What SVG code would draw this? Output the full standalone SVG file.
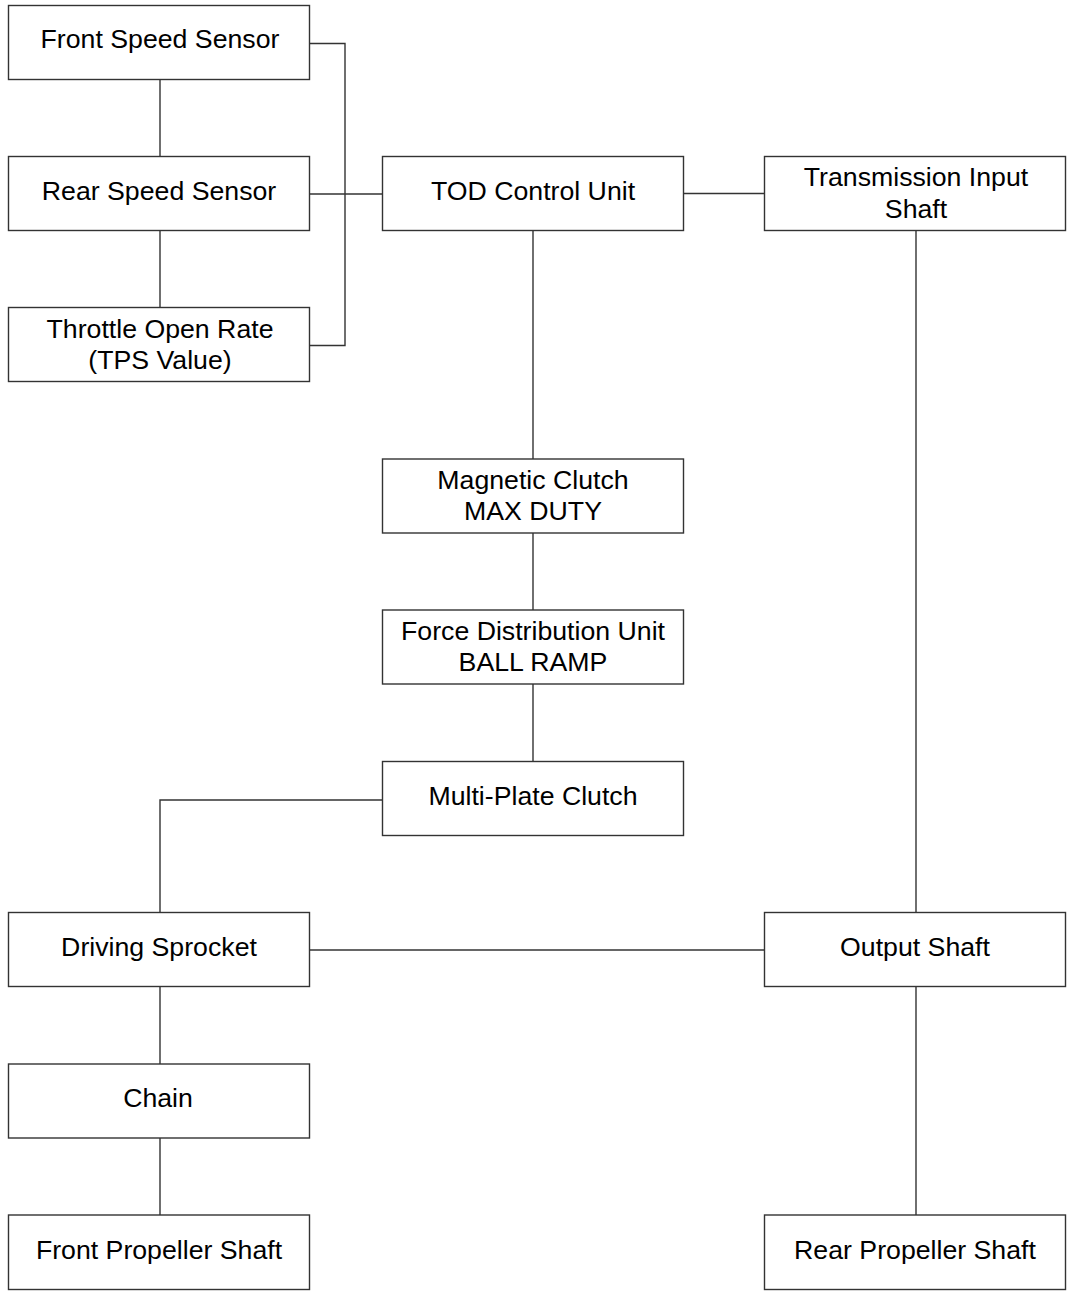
<svg xmlns="http://www.w3.org/2000/svg" width="1070" height="1291" viewBox="0 0 1070 1291">
<style>
.box{fill:#fff;stroke:#333;stroke-width:1.4}
.ln{fill:none;stroke:#333;stroke-width:1.4}
text{font-family:"Liberation Sans",Arial,sans-serif;font-size:26.7px;fill:#000;text-anchor:middle}
</style>
<rect width="1070" height="1291" fill="#fff"/>
<g id="connectors">
<polyline class="ln" points="309.5,43.5 345,43.5 345,345.5 309.5,345.5"/>
<line class="ln" x1="309.5" y1="194" x2="382.5" y2="194"/>
<line class="ln" x1="160" y1="79.5" x2="160" y2="156.5"/>
<line class="ln" x1="160" y1="230.5" x2="160" y2="307.5"/>
<line class="ln" x1="683.5" y1="193.5" x2="764.5" y2="193.5"/>
<line class="ln" x1="533" y1="230.5" x2="533" y2="459"/>
<line class="ln" x1="533" y1="533" x2="533" y2="610"/>
<line class="ln" x1="533" y1="684" x2="533" y2="761.5"/>
<polyline class="ln" points="382.5,800 160,800 160,912.5"/>
<line class="ln" x1="309.5" y1="950" x2="764.5" y2="950"/>
<line class="ln" x1="916" y1="230.5" x2="916" y2="912.5"/>
<line class="ln" x1="916" y1="986.5" x2="916" y2="1215"/>
<line class="ln" x1="160" y1="986.5" x2="160" y2="1064"/>
<line class="ln" x1="160" y1="1138" x2="160" y2="1215"/>
</g>
<g id="front-speed-sensor"><rect class="box" x="8.5" y="5.5" width="301" height="74"/><text x="160" y="48">Front Speed Sensor</text></g>
<g id="rear-speed-sensor"><rect class="box" x="8.5" y="156.5" width="301" height="74"/><text x="159" y="200">Rear Speed Sensor</text></g>
<g id="throttle-open-rate"><rect class="box" x="8.5" y="307.5" width="301" height="74"/><text x="160" y="337.5">Throttle Open Rate</text><text x="160" y="368.5">(TPS Value)</text></g>
<g id="tod-control-unit"><rect class="box" x="382.5" y="156.5" width="301" height="74"/><text x="533" y="200">TOD Control Unit</text></g>
<g id="transmission-input-shaft"><rect class="box" x="764.5" y="156.5" width="301" height="74"/><text x="916" y="186">Transmission Input</text><text x="916" y="217.5">Shaft</text></g>
<g id="magnetic-clutch"><rect class="box" x="382.5" y="459" width="301" height="74"/><text x="533" y="488.5">Magnetic Clutch</text><text x="533" y="520">MAX DUTY</text></g>
<g id="force-distribution-unit"><rect class="box" x="382.5" y="610" width="301" height="74"/><text x="533" y="639.5">Force Distribution Unit</text><text x="533" y="671">BALL RAMP</text></g>
<g id="multi-plate-clutch"><rect class="box" x="382.5" y="761.5" width="301" height="74"/><text x="533" y="805">Multi-Plate Clutch</text></g>
<g id="driving-sprocket"><rect class="box" x="8.5" y="912.5" width="301" height="74"/><text x="159" y="955.5">Driving Sprocket</text></g>
<g id="output-shaft"><rect class="box" x="764.5" y="912.5" width="301" height="74"/><text x="915" y="955.5">Output Shaft</text></g>
<g id="chain"><rect class="box" x="8.5" y="1064" width="301" height="74"/><text x="158" y="1107">Chain</text></g>
<g id="front-propeller-shaft"><rect class="box" x="8.5" y="1215" width="301" height="74.5"/><text x="159" y="1258.5">Front Propeller Shaft</text></g>
<g id="rear-propeller-shaft"><rect class="box" x="764.5" y="1215" width="301" height="74.5"/><text x="915" y="1258.5">Rear Propeller Shaft</text></g>
</svg>
